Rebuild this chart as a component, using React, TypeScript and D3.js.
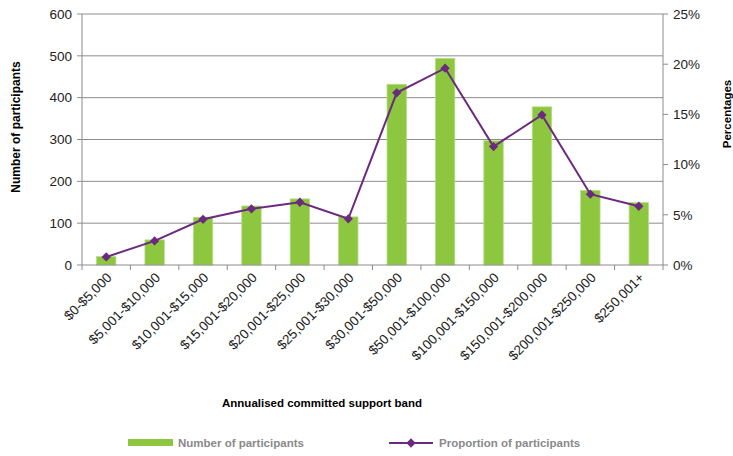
import React from "react";
import * as d3 from "d3";

const categories = [
  "$0-$5,000",
  "$5,001-$10,000",
  "$10,001-$15,000",
  "$15,001-$20,000",
  "$20,001-$25,000",
  "$25,001-$30,000",
  "$30,001-$50,000",
  "$50,001-$100,000",
  "$100,001-$150,000",
  "$150,001-$200,000",
  "$200,001-$250,000",
  "$250,001+",
];
const participants = [20, 60, 114, 141, 158, 115, 432, 494, 297, 378, 178, 149];
const proportions = [0.8, 2.4, 4.55, 5.6, 6.25, 4.6, 17.15, 19.6, 11.8, 14.95, 7.05, 5.85];
const leftTicks = [0, 100, 200, 300, 400, 500, 600];
const rightTicks = [0, 5, 10, 15, 20, 25];

const W = 733;
const H = 456;
const M = { left: 82, right: 663, top: 14, bottom: 265 };
const FONT = "'Liberation Sans', Arial, sans-serif";
const GREEN = "#8dc63f";
const PURPLE = "#6c2a7f";
const GRID = "#8c8c8c";

export default function App() {
  const x = d3.scaleBand<string>().domain(categories).range([M.left, M.right]).paddingInner(0).paddingOuter(0);
  const yL = d3.scaleLinear().domain([0, 600]).range([M.bottom, M.top]);
  const yR = d3.scaleLinear().domain([0, 25]).range([M.bottom, M.top]);
  const bw = x.bandwidth() * 0.4;
  const line = d3
    .line<number>()
    .x((_, i) => x(categories[i])! + x.bandwidth() / 2)
    .y((d) => yR(d));
  const diamond = d3.symbol().type(d3.symbolDiamond2).size(55)();

  return (
    <svg width={W} height={H} style={{ position: "absolute", left: 0, top: 0, background: "#fff" }} fontFamily={FONT}>
      {leftTicks.map((t) =>
        t === 0 ? null : (
          <line key={"g" + t} x1={M.left} x2={M.right} y1={yL(t)} y2={yL(t)} stroke={GRID} strokeWidth={1} />
        )
      )}
      {participants.map((v, i) => (
        <rect
          key={"b" + i}
          x={x(categories[i])! + (x.bandwidth() - bw) / 2}
          y={yL(v)}
          width={bw}
          height={yL(0) - yL(v)}
          fill={GREEN}
          stroke="#b5dc85"
          strokeWidth={0.8}
        />
      ))}
      <line x1={M.left} x2={M.left} y1={M.top} y2={M.bottom} stroke={GRID} />
      <line x1={M.right} x2={M.right} y1={M.top} y2={M.bottom} stroke={GRID} />
      <line x1={M.left} x2={M.right} y1={M.bottom} y2={M.bottom} stroke={GRID} />
      {leftTicks.map((t) => (
        <g key={"l" + t}>
          <line x1={M.left - 5} x2={M.left} y1={yL(t)} y2={yL(t)} stroke={GRID} />
          <text x={M.left - 10} y={yL(t)} dy="0.35em" textAnchor="end" fontSize={13.5} fill="#222">
            {t}
          </text>
        </g>
      ))}
      {rightTicks.map((t) => (
        <g key={"r" + t}>
          <line x1={M.right} x2={M.right + 5} y1={yR(t)} y2={yR(t)} stroke={GRID} />
          <text x={M.right + 10} y={yR(t)} dy="0.35em" textAnchor="start" fontSize={13.5} fill="#222">
            {t + "%"}
          </text>
        </g>
      ))}
      {categories.map((c, i) => (
        <line key={"xt" + i} x1={x(c)!} x2={x(c)!} y1={M.bottom} y2={M.bottom + 5} stroke={GRID} />
      ))}
      <line x1={M.right} x2={M.right} y1={M.bottom} y2={M.bottom + 5} stroke={GRID} />
      {categories.map((c) => {
        const cx = x(c)! + x.bandwidth() / 2 + 3;
        const cy = M.bottom + 10;
        return (
          <text
            key={"xl" + c}
            transform={`translate(${cx},${cy}) rotate(-45)`}
            textAnchor="end"
            dy="0.35em"
            fontSize={13.5}
            fill="#222"
          >
            {c}
          </text>
        );
      })}
      <path d={line(proportions)!} fill="none" stroke={PURPLE} strokeWidth={2} />
      {proportions.map((v, i) => (
        <path
          key={"m" + i}
          d={diamond!}
          transform={`translate(${x(categories[i])! + x.bandwidth() / 2},${yR(v)})`}
          fill={PURPLE}
        />
      ))}
      <text
        transform={`translate(20,127) rotate(-90)`}
        textAnchor="middle"
        fontSize={12}
        fontWeight="bold"
        fill="#000"
      >
        Number of participants
      </text>
      <text
        transform={`translate(731,114) rotate(-90)`}
        textAnchor="middle"
        fontSize={11.5}
        fontWeight="bold"
        fill="#000"
      >
        Percentages
      </text>
      <text x={322} y={407} textAnchor="middle" fontSize={11.5} fontWeight="bold" fill="#000">
        Annualised committed support band
      </text>
      <rect x={128} y={439} width={45} height={7} fill={GREEN} />
      <text x={178} y={443} dy="0.35em" fontSize={11.5} fontWeight="bold" fill="#8a8a8a">
        Number of participants
      </text>
      <line x1={389} x2={433} y1={443} y2={443} stroke={PURPLE} strokeWidth={2} />
      <path d={diamond!} transform="translate(411,443)" fill={PURPLE} />
      <text x={439} y={443} dy="0.35em" fontSize={11.5} fontWeight="bold" fill="#8a8a8a">
        Proportion of participants
      </text>
    </svg>
  );
}
